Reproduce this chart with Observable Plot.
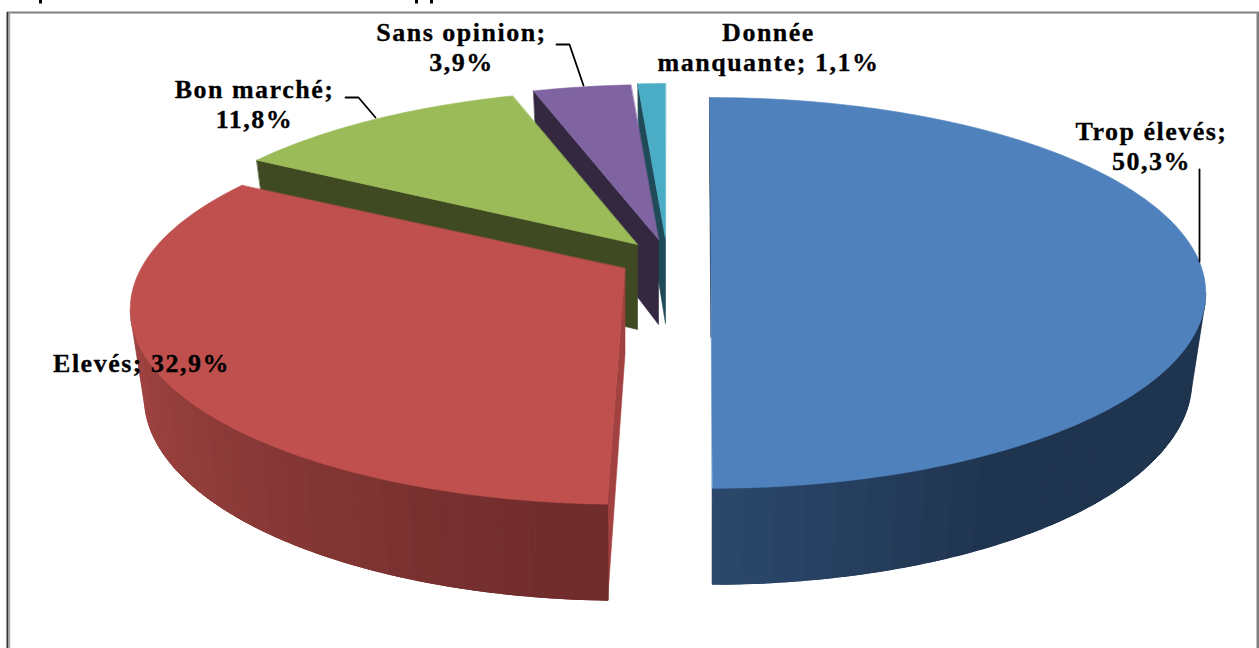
<!DOCTYPE html>
<html><head><meta charset="utf-8">
<script src="https://cdn.jsdelivr.net/npm/d3@7"></script>
<script src="https://cdn.jsdelivr.net/npm/@observablehq/plot@0.6"></script>
<style>html,body{margin:0;padding:0;background:#fff;overflow:hidden}</style>
</head><body><div id="chart"></div>
<script>
const categories = ["Trop élevés","Elevés","Bon marché","Sans opinion","Donnée manquante"];
const shares = [50.3,32.9,11.8,3.9,1.1];
const shareLabels = ["50,3%","32,9%","11,8%","3,9%","1,1%"];
const topColors = ["#4f81bd","#c0504d","#9bbb59","#8064a2","#4bacc6"];
const wallColors = ["#1f344f","#a24240","#3f4a22","#332840","#1f4a58"];
const apexX = [710.5,624.5,637,658,665];
const apexY = [252,268,244,239,238];
const startNudge = [-0.2,0.6,0.3,0,0];
const endNudge = [-1.2,-0.2,0,0,0];

const R=484, Ry=187, k=0.207, shrink=0.972;
const deg=Math.PI/180;
const topPt=(i,t)=>{const u=Math.sin(t*deg),v=-Math.cos(t*deg),s=1/(1-k*v);
  return {x:apexX[i]+R*u*s,y:apexY[i]+Ry*v*s,v};};
const botPt=(i,t)=>{const p=topPt(i,t);
  return {x:apexX[i]+(p.x-apexX[i])*shrink,y:p.y+85+11*p.v};};
const apexBot=i=>({x:apexX[i],y:apexY[i]+85});

let cum=0;
const spans=shares.map((s,i)=>{const a=cum*3.6+startNudge[i];cum+=s;return [a,cum*3.6+endNudge[i]];});

const shapes=[];let nid=0;
const add=(pts,fill)=>{const id=nid++;pts.forEach(p=>shapes.push({id,x:p.x,y:p.y,fill}));};
const arc=(fn,i,a,b,step=1)=>{const n=Math.max(1,Math.ceil(Math.abs(b-a)/step));
  return d3.range(n+1).map(j=>fn(i,a+(b-a)*j/n));};
const mix=(a,b,t)=>d3.interpolateRgb(a,b)(Math.max(0,Math.min(1,t)));

const paint=i=>{
  const [a,b]=spans[i];
  add([topPt(i,a),{x:apexX[i],y:apexY[i]},apexBot(i),botPt(i,a)],wallColors[i]);
  if(i===0){ // front rim, right half: bands painted from the far side so each one overlaps the next
    for(let t=102;t<b;t+=3){const e=Math.min(t+8,b);
      add([...arc(topPt,i,t,e,1),...arc(botPt,i,e,t,1)],mix("#1f344f","#2c4a6e",(t-150)/30));}
  }
  if(i===1){ // front rim, left half
    for(let t=255;t>=a;t-=3){const s=Math.max(t-8,a);
      add([...arc(topPt,i,s,t+3,1),...arc(botPt,i,t+3,s,1)],mix("#702d2c","#a54643",(t-185)/73));}
  }
  add([{x:apexX[i],y:apexY[i]},...arc(topPt,i,a,b,1)],topColors[i]);
};
[4,3,2,1,0].forEach(paint);

const labelText=[categories[0]+";\n"+shareLabels[0],categories[1]+"; "+shareLabels[1],categories[2]+";\n"+shareLabels[2],categories[3]+";\n"+shareLabels[3],"Donnée\nmanquante; "+shareLabels[4]];
const labelPos=[[1151,145],[141,362],[254,103],[461,46],[768,46]];
const labels=labelText.map((t,i)=>({t,x:labelPos[i][0],y:labelPos[i][1]}));
const leaders=[
  [[1199,169],[1199,261]],
  [[345,97],[358,97],[375,117]],
  [[556,44],[569,44],[583,85]]
].flatMap((l,id)=>l.map(([x,y])=>({id,x,y})));

const chart=Plot.plot({
  width:1259,height:648,margin:0,
  x:{domain:[0,1259],range:[0,1259],axis:null},
  y:{domain:[0,648],range:[0,648],axis:null},
  color:{type:"identity"},
  style:{background:"#fff",overflow:"hidden",letterSpacing:"1.5px"},
  marks:[
    Plot.ruleY([12],{stroke:"#808080",strokeWidth:2,x1:7,x2:1259}),
    Plot.ruleX([7],{stroke:"#333",strokeWidth:2,y1:12,y2:648}),
    Plot.ruleX([9],{stroke:"#aaa",strokeWidth:1.5,y1:12,y2:648}),
    Plot.ruleX([1257.5],{stroke:"#808080",strokeWidth:3,y1:12,y2:648}),
    Plot.ruleX([40,416,431],{stroke:"#000",strokeWidth:3,y1:0,y2:3.5}),
    Plot.line(shapes,{x:"x",y:"y",z:"id",fill:"fill",stroke:"fill",strokeWidth:0.6,curve:"linear-closed"}),
    Plot.line(leaders,{x:"x",y:"y",z:"id",stroke:"#000",strokeWidth:1.8}),
    Plot.text(labels,{x:"x",y:"y",text:"t",fontFamily:"Liberation Serif",fontWeight:"bold",fontSize:26,lineHeight:1.154,fill:"#000",stroke:"#000",strokeWidth:0.3,textAnchor:"middle"})
  ]
});
document.getElementById("chart").appendChild(chart);
</script></body></html>
